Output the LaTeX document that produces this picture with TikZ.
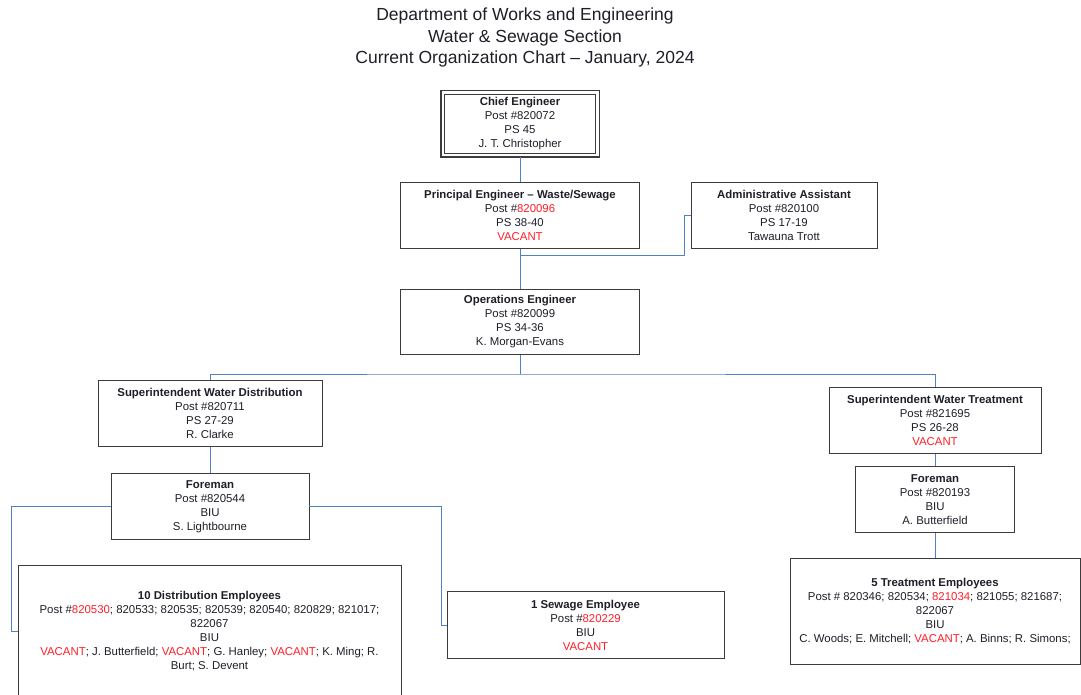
\documentclass[tikz,border=0pt]{standalone}
\usepackage{fontspec}
\setmainfont{Liberation Sans}
\definecolor{conn}{RGB}{79,129,199}
\definecolor{bord}{RGB}{60,60,60}
\definecolor{txt}{RGB}{30,30,40}
\definecolor{vac}{RGB}{255,30,40}
\newcommand{\vc}[1]{\textcolor{vac}{#1}}
\tikzset{
  box/.style={draw=bord, line width=0.9pt, inner sep=0pt, align=center, text=txt,
    font=\fontsize{11.4}{14}\selectfont},
  link/.style={draw=conn, line width=0.9pt},
  titletext/.style={align=center, text=txt, font=\fontsize{17.5}{21.5}\selectfont}
}
\begin{document}
\begin{tikzpicture}[x=1pt,y=-1pt]
\useasboundingbox (0,0) rectangle (1081,695);
\begin{scope}
\clip (0,0) rectangle (1081,695);
\node[titletext] (title) at (525,37.5) {Department of Works and Engineering\\Water \& Sewage Section\\Current Organization Chart -- January, 2024};

\node[box, line width=0.8pt, minimum width=151, minimum height=59] (chief) at (520,124)
 {\textbf{Chief Engineer}\\Post \#820072\\PS 45\\J. T. Christopher};
\coordinate (chiefbot) at ([yshift=-3.5pt]chief.south);
\draw[draw=bord, line width=1.8pt] ([shift={(-3.5pt,3.5pt)}]chief.north west) rectangle ([shift={(3.5pt,-3.5pt)}]chief.south east);
\node[box, minimum width=239, minimum height=66] (principal) at (520,215.5)
 {\textbf{Principal Engineer -- Waste/Sewage}\\Post \#\vc{820096}\\PS 38-40\\\vc{VACANT}};
\node[box, minimum width=186, minimum height=66] (admin) at (784,215.5)
 {\textbf{Administrative Assistant}\\Post \#820100\\PS 17-19\\Tawauna Trott};
\node[box, minimum width=239, minimum height=65] (ops) at (520,322)
 {\textbf{Operations Engineer}\\Post \#820099\\PS 34-36\\K. Morgan-Evans};
\node[box, minimum width=224, minimum height=66] (supD) at (210,413.5)
 {\textbf{Superintendent Water Distribution}\\Post \#820711\\PS 27-29\\R. Clarke};
\node[box, minimum width=212, minimum height=66] (supT) at (935,420.5)
 {\textbf{Superintendent Water Treatment}\\Post \#821695\\PS 26-28\\\vc{VACANT}};
\node[box, minimum width=198, minimum height=66] (foreL) at (210,506.5)
 {\textbf{Foreman}\\Post \#820544\\BIU\\S. Lightbourne};
\node[box, minimum width=159, minimum height=66] (foreR) at (935,499.5)
 {\textbf{Foreman}\\Post \#820193\\BIU\\A. Butterfield};
\node[box, minimum width=383, minimum height=132] (distL) at (209.5,631.5)
 {\textbf{10 Distribution Employees}\\Post \#\vc{820530}; 820533; 820535; 820539; 820540; 820829; 821017;\\822067\\BIU\\\vc{VACANT}; J. Butterfield; \vc{VACANT}; G. Hanley; \vc{VACANT}; K. Ming; R.\\Burt; S. Devent};
\node[box, minimum width=277, minimum height=67] (sewage) at (585.5,625)
 {\textbf{1 Sewage Employee}\\Post \#\vc{820229}\\BIU\\\vc{VACANT}};
\node[box, minimum width=290, minimum height=106] (treat) at (935,611.5)
 {\textbf{5 Treatment Employees}\\Post \# 820346; 820534; \vc{821034}; 821055; 821687;\\822067\\BIU\\C. Woods; E. Mitchell; \vc{VACANT}; A. Binns; R. Simons;};

\coordinate (j1) at (520,255);
\coordinate (bus) at (520,374);

\draw[link] (chiefbot) -- (principal.north);
\draw[link] (principal.south) -- (ops.north);
\draw[link] (admin.west) -- ++(-6,0) |- (j1);
\draw[link] (ops.south) -- (bus);
\draw[link] (supD.north) |- (bus) -| (supT.north);
\draw[link] (supD.south) -- (foreL.north);
\draw[link] (foreL.west) -- ++(-99,0) |- (distL.west);
\draw[link] (foreL.east) -- ++(132,0) |- (sewage.west);
\draw[link] (supT.south) -- (foreR.north);
\draw[link] (foreR.south) -- (treat.north);
\end{scope}
\end{tikzpicture}
\end{document}
